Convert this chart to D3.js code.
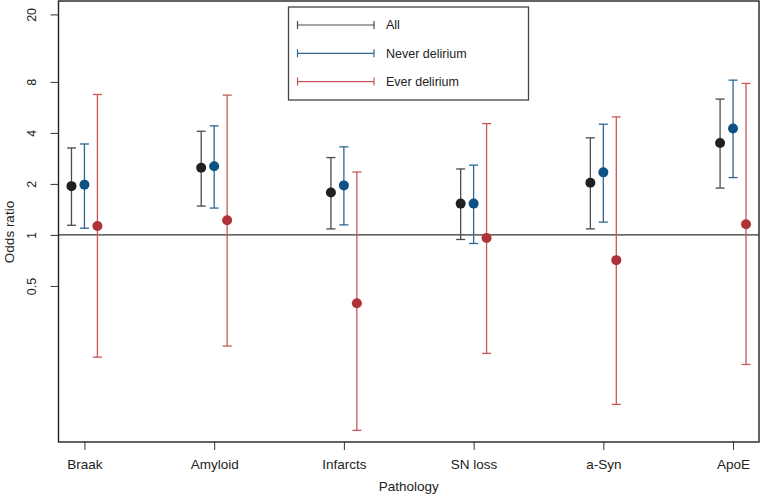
<!DOCTYPE html>
<html>
<head>
<meta charset="utf-8">
<script src="https://cdn.jsdelivr.net/npm/d3@7"></script>
<style>
	body { margin: 0; background: #fff; }
	text { font-family: "Liberation Sans", Arial, Helvetica, sans-serif; fill: #222; }
</style>
</head>
<body>
<div id="chart"></div>
<script>
///////////////////////////////////////////////////////////////////////////
/////////////////////////////// The data //////////////////////////////////
///////////////////////////////////////////////////////////////////////////

var categories = ["Braak", "Amyloid", "Infarcts", "SN loss", "a-Syn", "ApoE"];
var groups = ["All", "Never delirium", "Ever delirium"];

//Odds ratio + 95% CI, read per pathology
var allOR   = [1.94, 2.49, 1.78, 1.53, 2.03, 3.49],
	allLo   = [1.14, 1.48, 1.085, 0.94, 1.085, 1.89],
	allHi   = [3.26, 4.09, 2.86, 2.45, 3.74, 6.33];
var neverOR = [1.98, 2.54, 1.96, 1.53, 2.34, 4.25],
	neverLo = [1.095, 1.44, 1.146, 0.89, 1.19, 2.18],
	neverHi = [3.44, 4.40, 3.31, 2.58, 4.50, 8.19];
var everOR  = [1.13, 1.22, 0.395, 0.96, 0.71, 1.157],
	everLo  = [0.19, 0.221, 0.0703, 0.20, 0.10, 0.172],
	everHi  = [6.74, 6.68, 2.35, 4.54, 4.97, 7.83];

var yTicks = [0.5, 1, 2, 4, 8, 20];

///////////////////////////////////////////////////////////////////////////
//////////////////////////// Set up the SVG ///////////////////////////////
///////////////////////////////////////////////////////////////////////////

var width = 760, height = 497;
var plot = {left: 58.5, top: 1, right: 759, bottom: 442};

var svg = d3.select("#chart").append("svg")
	.attr("width", width)
	.attr("height", height);

var lineColors = ["#4a4a4a", "#2f6690", "#c4585c"],
	dotColors = ["#231f20", "#0c5282", "#ae3237"];
var offsets = [-0.1, 0, 0.1];

var x = d3.scaleLinear().domain([0.8, 6.2]).range([plot.left, plot.right]);
var y = d3.scaleLog().domain([0.06, 24]).range([plot.bottom, plot.top]);

//Build rows from the arrays
var series = [
	{or: allOR, lo: allLo, hi: allHi},
	{or: neverOR, lo: neverLo, hi: neverHi},
	{or: everOR, lo: everLo, hi: everHi}
];
var rows = [];
series.forEach(function(s, g) {
	categories.forEach(function(c, i) {
		rows.push({g: g, x: i + 1 + offsets[g], or: s.or[i], lo: s.lo[i], hi: s.hi[i]});
	});
});

///////////////////////////////////////////////////////////////////////////
/////////////////////////////// Axes //////////////////////////////////////
///////////////////////////////////////////////////////////////////////////

//Reference line at OR = 1
svg.append("line")
	.attr("x1", plot.left).attr("x2", plot.right)
	.attr("y1", y(1)).attr("y2", y(1))
	.style("stroke", "#333")
	.style("stroke-width", 1.1);

var xAxis = svg.append("g")
	.attr("transform", "translate(0," + plot.bottom + ")")
	.call(d3.axisBottom(x).tickValues([1, 2, 3, 4, 5, 6])
		.tickFormat(function(d) { return categories[d - 1]; })
		.tickSize(8).tickPadding(9).tickSizeOuter(0));
xAxis.select(".domain").remove();
xAxis.selectAll("line").style("stroke", "#333");
xAxis.selectAll("text").style("font-size", "13.5px").style("fill", "#222");

var yAxis = svg.append("g")
	.attr("transform", "translate(" + plot.left + ",0)")
	.call(d3.axisLeft(y).tickValues(yTicks).tickFormat(d3.format("")).tickSize(8).tickSizeOuter(0));
yAxis.select(".domain").remove();
yAxis.selectAll("line").style("stroke", "#333");
yAxis.selectAll("text")
	.attr("x", null).attr("dy", null)
	.attr("transform", "translate(-27,0) rotate(-90)")
	.attr("dy", "0.35em")
	.style("text-anchor", "middle")
	.style("font-size", "12.5px")
	.style("fill", "#222");

//Frame
svg.append("rect")
	.attr("x", plot.left).attr("y", plot.top)
	.attr("width", plot.right - plot.left)
	.attr("height", plot.bottom - plot.top)
	.style("fill", "none")
	.style("stroke", "#222")
	.style("stroke-width", 1.4);

//Axis titles
svg.append("text")
	.attr("x", (plot.left + plot.right) / 2)
	.attr("y", 491)
	.style("text-anchor", "middle")
	.style("font-size", "13.5px")
	.text("Pathology");
svg.append("text")
	.attr("transform", "translate(9,232) rotate(-90)")
	.attr("dy", "0.35em")
	.style("text-anchor", "middle")
	.style("font-size", "13.5px")
	.text("Odds ratio");

///////////////////////////////////////////////////////////////////////////
//////////////////////////// Error bars ///////////////////////////////////
///////////////////////////////////////////////////////////////////////////

var capW = 4.5;
var bars = svg.append("g").attr("class", "bars")
	.selectAll("g").data(rows).enter().append("g")
	.style("stroke", function(d) { return lineColors[d.g]; })
	.style("stroke-width", 1.3);
bars.append("line")
	.attr("x1", function(d) { return x(d.x); }).attr("x2", function(d) { return x(d.x); })
	.attr("y1", function(d) { return y(d.lo); }).attr("y2", function(d) { return y(d.hi); });
bars.append("line")
	.attr("x1", function(d) { return x(d.x) - capW; }).attr("x2", function(d) { return x(d.x) + capW; })
	.attr("y1", function(d) { return y(d.hi); }).attr("y2", function(d) { return y(d.hi); });
bars.append("line")
	.attr("x1", function(d) { return x(d.x) - capW; }).attr("x2", function(d) { return x(d.x) + capW; })
	.attr("y1", function(d) { return y(d.lo); }).attr("y2", function(d) { return y(d.lo); });

svg.append("g").attr("class", "dots")
	.selectAll("circle").data(rows).enter().append("circle")
	.attr("cx", function(d) { return x(d.x); })
	.attr("cy", function(d) { return y(d.or); })
	.attr("r", 5)
	.style("fill", function(d) { return dotColors[d.g]; });

///////////////////////////////////////////////////////////////////////////
////////////////////////////// Legend /////////////////////////////////////
///////////////////////////////////////////////////////////////////////////

var legend = svg.append("g").attr("class", "legend");
legend.append("rect")
	.attr("x", 288.5).attr("y", 7)
	.attr("width", 240).attr("height", 93)
	.style("fill", "#fff")
	.style("stroke", "#444")
	.style("stroke-width", 1.3);

var items = legend.selectAll(".item").data(groups).enter().append("g")
	.attr("class", "item")
	.attr("transform", function(d, i) { return "translate(0," + (25 + i * 28.3) + ")"; });
items.append("path")
	.attr("d", "M297.5,-4V4M297.5,0H374M374,-4V4")
	.style("fill", "none")
	.style("stroke", function(d, i) { return lineColors[i]; })
	.style("stroke-width", 1.2);
items.append("text")
	.attr("x", 386)
	.attr("dy", "0.35em")
	.style("font-size", "12.5px")
	.text(function(d) { return d; });
</script>
</body>
</html>
